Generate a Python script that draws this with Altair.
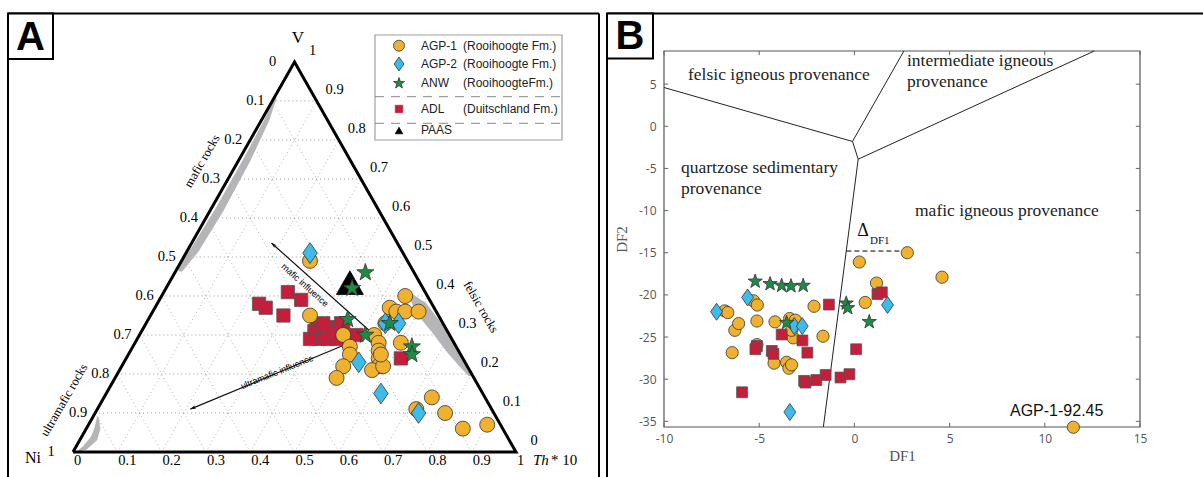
import altair as alt
import pandas as pd

# ---------------- Panel A : V - Ni - Th*10 ternary (fractions of Th*10 and V) ----------------
a_agp1_th = [0.29, 0.36, 0.55, 0.53, 0.55, 0.57, 0.60, 0.54, 0.60, 0.46, 0.49, 0.50,
             0.50, 0.50, 0.53, 0.55, 0.56, 0.57, 0.58, 0.57, 0.59, 0.57, 0.74, 0.79,
             0.85, 0.90, 0.72]
a_agp1_v = [0.49, 0.35, 0.40, 0.37, 0.36, 0.36, 0.36, 0.33, 0.28, 0.30, 0.27, 0.25,
            0.22, 0.19, 0.30, 0.28, 0.26, 0.24, 0.22, 0.21, 0.22, 0.25, 0.14, 0.10,
            0.06, 0.07, 0.11]
a_agp2_th = [0.28, 0.54, 0.57, 0.53, 0.62, 0.73]
a_agp2_v = [0.51, 0.33, 0.33, 0.23, 0.15, 0.10]
a_anw_th = [0.43, 0.42, 0.45, 0.51, 0.55, 0.63, 0.64]
a_anw_v = [0.46, 0.42, 0.34, 0.30, 0.33, 0.27, 0.25]
a_adl_th = [0.23, 0.25, 0.28, 0.32, 0.30, 0.39, 0.42, 0.39, 0.41, 0.43, 0.45, 0.43,
            0.45, 0.49, 0.62, 0.40, 0.44, 0.39]
a_adl_v = [0.38, 0.37, 0.41, 0.39, 0.35, 0.32, 0.32, 0.31, 0.29, 0.29, 0.29, 0.31,
           0.32, 0.30, 0.24, 0.33, 0.33, 0.29]
a_paas_th = [0.41]
a_paas_v = [0.43]

# ---------------- Panel B : DF1 vs DF2 ----------------
b_agp1_df1 = [-6.81, -6.65, -6.28, -6.08, -6.42, -5.30, -5.10, -5.12, -5.12, -4.17, -4.22,
              -3.56, -3.44, -3.30, -3.40, -3.10, -3.21, -3.30, -2.12, -1.65, 0.26, 1.16,
              0.57, 2.78, 4.60, 11.50]
b_agp1_df2 = [-21.9, -22.1, -24.2, -23.4, -26.85, -20.7, -21.2, -23.1, -25.9, -23.2, -28.1,
              -28.0, -28.7, -28.3, -22.8, -23.0, -25.1, -24.2, -21.35, -24.9, -16.1, -18.6,
              -20.9, -15.0, -17.9, -35.7]
b_agp2_df1 = [-7.24, -5.61, -3.39, -3.16, -2.74, 1.74]
b_agp2_df2 = [-22.0, -20.3, -33.9, -23.7, -23.7, -21.2]
b_anw_df1 = [-5.21, -4.43, -3.82, -3.33, -2.69, -0.43, -0.35, -3.56, 0.78]
b_anw_df2 = [-18.4, -18.7, -18.9, -18.95, -18.9, -21.0, -21.55, -23.3, -23.2]
b_adl_df1 = [-5.90, -5.12, -5.20, -4.34, -4.25, -3.82, -2.73, -2.47, -2.64, -2.57, -2.00,
             -1.51, -0.73, -0.26, 0.09, -1.34, 1.21, 1.44]
b_adl_df2 = [-31.55, -26.06, -26.45, -26.65, -27.0, -24.7, -25.4, -26.85, -30.2, -30.4,
             -30.1, -29.5, -29.8, -29.4, -26.45, -21.15, -19.9, -19.7]

# field boundaries (DF1, DF2)
b_bound_x1 = [-10.0, -0.1, -0.1, 0.2, 0.2]
b_bound_y1 = [4.6, -1.8, -1.8, -3.9, -3.9]
b_bound_x2 = [-0.1, 2.6, 0.2, 12.6, -1.63]
b_bound_y2 = [-1.8, 8.93, -3.9, 8.93, -35.67]

# ticks
tern_ticks = [0, 0.1, 0.2, 0.3, 0.4, 0.5, 0.6, 0.7, 0.8, 0.9, 1]
tern_labels = ["0", "0.1", "0.2", "0.3", "0.4", "0.5", "0.6", "0.7", "0.8", "0.9", "1"]
b_xticks = [-10, -5, 0, 5, 10, 15]
b_yticks = [-35, -30, -25, -20, -15, -10, -5, 0, 5]

ORANGE = "#F0B12F"
BLUE = "#3DBBEA"
GREEN = "#1E8A46"
RED = "#C41E3A"
EDGE = "#333333"
BAND = "#B5B5B8"

STAR = ("M0,-1L0.235,-0.324L0.951,-0.309L0.380,0.124L0.588,0.809L0,0.4L-0.588,0.809"
        "L-0.380,0.124L-0.951,-0.309L-0.235,-0.324Z")
DIAMOND = "M0,-1L0.7,0L0,1L-0.7,0Z"
TRI = "M0,-1L1,0.75L-1,0.75Z"
ARROWHEAD = "M0,0L0.6,1.8L0,1.4L-0.6,1.8Z"

XA = alt.Scale(domain=[0, 1], range=[73, 516], nice=False, zero=False)
YA = alt.Scale(domain=[0, 1], range=[452, 62], nice=False, zero=False)
XB = alt.Scale(domain=[-10, 15], range=[664, 1140], nice=False, zero=False)
YB = alt.Scale(domain=[-35.67, 8.93], range=[427, 51], nice=False, zero=False)


def ax(f):
    return alt.X(f"{f}:Q", scale=XA, axis=None)


def ay(f):
    return alt.Y(f"{f}:Q", scale=YA, axis=None)


AX_B = alt.Axis(orient="bottom", offset=-50, values=b_xticks, ticks=False, tickSize=0,
                domain=False, grid=False, labelExpr="'' + datum.value", labelFlush=False,
                labelFont="Open Sans", labelFontSize=12, labelColor="#555", labelPadding=6,
                title="DF1", titleFont="Liberation Serif", titleFontSize=15,
                titleFontWeight="normal", titleColor="#555", titlePadding=4)
AY_B = alt.Axis(orient="left", offset=-664, values=b_yticks, ticks=False, tickSize=0,
                domain=False, grid=False, labelExpr="'' + datum.value", labelFlush=False,
                labelFont="Open Sans", labelFontSize=12, labelColor="#555", labelPadding=8,
                title="DF2", titleFont="Liberation Serif", titleFontSize=15,
                titleFontWeight="normal", titleColor="#555", titlePadding=9)


def bx(f):
    return alt.X(f"{f}:Q", scale=XB, axis=AX_B)


def by(f):
    return alt.Y(f"{f}:Q", scale=YB, axis=AY_B)


def tern(th, v):
    df = pd.DataFrame({"th": th, "v": v})
    df["xf"] = df["th"] + df["v"] / 2
    return df


ONE = pd.DataFrame({"k": [0]})


def label(text, x, y, size=12, font="Liberation Serif", angle=0, align="center",
          baseline="middle", color="black", weight="normal", style="normal"):
    kw = dict(text=text, fontSize=size, font=font, align=align, baseline=baseline,
              color=color, fontWeight=weight, fontStyle=style)
    if angle:
        kw["angle"] = angle % 360
    return alt.Chart(ONE).mark_text(**kw).encode(x=alt.value(x), y=alt.value(y))


def vrule(x, y1, y2, color="black", w=2, dash=None):
    kw = dict(color=color, strokeWidth=w)
    if dash:
        kw["strokeDash"] = dash
    return alt.Chart(ONE).mark_rule(**kw).encode(x=alt.value(x), y=alt.value(y1), y2=alt.value(y2))


def hrule(y, x1, x2, color="black", w=2, dash=None):
    kw = dict(color=color, strokeWidth=w)
    if dash:
        kw["strokeDash"] = dash
    return alt.Chart(ONE).mark_rule(**kw).encode(y=alt.value(y), x=alt.value(x1), x2=alt.value(x2))


def sym(x, y, shape, size, fill, stroke=EDGE):
    return alt.Chart(ONE).mark_point(shape=shape, size=size, filled=True, fill=fill, stroke=stroke,
                                     strokeWidth=0.8, opacity=1).encode(x=alt.value(x), y=alt.value(y))


# ---------------- build panel A ----------------
grid_rows = []
for i in range(1, 10):
    c = i / 10
    grid_rows.append(dict(x1=c / 2, y1=c, x2=1 - c / 2, y2=c, kind="h"))
    grid_rows.append(dict(x1=c, y1=0, x2=c + (1 - c) / 2, y2=1 - c, kind="d"))
    grid_rows.append(dict(x1=1 - c, y1=0, x2=(1 - c) / 2, y2=1 - c, kind="d"))
grid = pd.DataFrame(grid_rows)

grid_d = alt.Chart(grid[grid.kind == "d"]).mark_rule(
    color="#a8a8a8", strokeWidth=0.9, strokeDash=[1, 3]).encode(
    x=ax("x1"), y=ay("y1"), x2="x2:Q", y2="y2:Q")
grid_h = alt.Chart(grid[grid.kind == "h"]).mark_rule(
    color="#8a8a8a", strokeWidth=0.9, strokeDash=[1, 3]).encode(
    x=ax("x1"), y=ay("y1"), x2="x2:Q", y2="y2:Q")


def band(th, v, w):
    df = tern(th, v)
    df["w"] = w
    df["o"] = range(len(df))
    return alt.Chart(df).mark_trail(color=BAND).encode(
        x=ax("xf"), y=ay("v"), size=alt.Size("w:Q", scale=None, legend=None), order="o:Q")


band_mafic = band([0.004, 0.012, 0.018, 0.02, 0.016, 0.008],
                  [0.905, 0.85, 0.75, 0.62, 0.52, 0.47], [2, 5, 7, 8, 8, 6])
band_felsic = band([0.57, 0.60, 0.66, 0.72, 0.77, 0.795],
                   [0.395, 0.37, 0.32, 0.265, 0.222, 0.200], [6, 14, 13, 10, 7, 4])
band_ultra = band([0.012, 0.025, 0.03, 0.022, 0.012],
                  [0.088, 0.06, 0.035, 0.012, 0.003], [2, 6, 7, 5, 2])

tri = pd.DataFrame({"xf": [0, 1, 0.5, 0], "v": [0, 0, 1, 0], "o": [0, 1, 2, 3]})
triangle = alt.Chart(tri).mark_line(color="black", strokeWidth=3, strokeJoin="miter").encode(
    x=ax("xf"), y=ay("v"), order="o:Q")

tick_df = pd.DataFrame({"t": tern_ticks, "lab": tern_labels})
tick_df["bx"] = tick_df["t"]
tick_df["by"] = 0.0
tick_df["rx"] = 1 - tick_df["t"] / 2
tick_df["ry"] = tick_df["t"]
tick_df["lx"] = (1 - tick_df["t"]) / 2
tick_df["ly"] = 1 - tick_df["t"]
TF = dict(font="Liberation Serif", fontSize=14.5, color="black", baseline="middle")
bottom_labels = alt.Chart(tick_df).mark_text(align="left", dx=1, dy=9, **TF).encode(
    x=ax("bx"), y=ay("by"), text="lab:N")
right_labels = alt.Chart(tick_df).mark_text(align="center", dx=18, dy=-11, **TF).encode(
    x=ax("rx"), y=ay("ry"), text="lab:N")
left_mid = alt.Chart(tick_df[(tick_df.t > 0) & (tick_df.t < 1)]).mark_text(
    align="center", dx=-17, **TF).encode(x=ax("lx"), y=ay("ly"), text="lab:N")
left_ends = alt.Chart(tick_df[(tick_df.t == 0) | (tick_df.t == 1)]).mark_text(
    align="center", dx=-22, **TF).encode(x=ax("lx"), y=ay("ly"), text="lab:N")


def arrow(th0, v0, th1, v1, ang):
    df = tern([th0, th1], [v0, v1])
    seg = pd.DataFrame({"x0": [df.xf[0]], "y0": [df.v[0]], "x1": [df.xf[1]], "y1": [df.v[1]]})
    line = alt.Chart(seg).mark_rule(color="#111", strokeWidth=1.2).encode(
        x=ax("x0"), y=ay("y0"), x2="x1:Q", y2="y1:Q")
    head = alt.Chart(seg).mark_point(shape=ARROWHEAD, size=36, filled=True, color="#111",
                                     opacity=1, angle=ang).encode(x=ax("x1"), y=ay("y1"))
    return [line, head]


arrows = arrow(0.53, 0.30, 0.18, 0.536, 311.5) + arrow(0.525, 0.305, 0.21, 0.11, 247.4)


def pts_a(th, v, shape, size, color, stroke=EDGE):
    return alt.Chart(tern(th, v)).mark_point(
        shape=shape, size=size, filled=True, fill=color, stroke=stroke, strokeWidth=0.8,
        opacity=1).encode(x=ax("xf"), y=ay("v"))


a_points = [
    pts_a(a_adl_th, a_adl_v, "square", 177, RED, "#555"),
    pts_a(a_agp1_th, a_agp1_v, "circle", 225, ORANGE),
    pts_a(a_agp2_th, a_agp2_v, DIAMOND, 430, BLUE),
    pts_a(a_paas_th, a_paas_v, TRI, 729, "black", "black"),
    pts_a(a_anw_th, a_anw_v, STAR, 324, GREEN),
]

a_text = [
    label("V", 298, 38, size=17),
    label("Ni", 33, 458, size=16),
    label("Th", 533, 460, size=15, style="italic", align="left"),
    label("* 10", 551, 460, size=15, align="left"),
    label("mafic rocks", 202, 161, size=12.5, angle=-60),
    label("ultramafic rocks", 64, 400, size=12.5, angle=-60),
    label("felsic rocks", 481, 307, size=12.5, angle=60),
    label("mafic influence", 305, 285, size=9, font="Liberation Sans", angle=42),
    label("ultramafic influence", 277, 372, size=9, font="Liberation Sans", angle=-22),
]

legend_box = alt.Chart(ONE).mark_rect(fill="white", stroke="#a0a0a0", strokeWidth=1.2).encode(
    x=alt.value(375), x2=alt.value(562), y=alt.value(35), y2=alt.value(140))
LF = dict(size=12, font="Liberation Sans", align="left", color="#222")
legend = [
    legend_box,
    hrule(96.7, 375, 562, color="#888", w=1, dash=[9, 7]),
    hrule(123.3, 375, 562, color="#888", w=1, dash=[9, 7]),
    sym(399, 45.7, "circle", 121, ORANGE),
    sym(399, 64, DIAMOND, 196, BLUE),
    sym(399, 83.3, STAR, 135, GREEN),
    sym(399, 109, "square", 54, RED, RED),
    sym(399, 131, TRI, 55, "black", "black"),
    label("AGP-1", 421, 45.7, **LF), label("(Rooihoogte Fm.)", 463, 45.7, **LF),
    label("AGP-2", 421, 64, **LF), label("(Rooihoogte Fm.)", 463, 64, **LF),
    label("ANW", 421, 83.3, **LF), label("(RooihoogteFm.)", 463, 83.3, **LF),
    label("ADL", 421, 109, **LF), label("(Duitschland Fm.)", 463, 109, **LF),
    label("PAAS", 421, 130, **LF),
]

panel_a = alt.layer(grid_d, grid_h, band_mafic, band_felsic, band_ultra, triangle,
                    bottom_labels, right_labels, left_mid, left_ends,
                    *arrows, *a_points, *a_text, *legend)

# ---------------- build panel B ----------------
box = pd.DataFrame({"x0": [-10], "x1": [15], "y0": [-35.67], "y1": [8.93]})
b_box = alt.Chart(box).mark_rect(fillOpacity=0, stroke="#555", strokeWidth=1.2).encode(
    x=bx("x0"), x2="x1:Q", y=by("y0"), y2="y1:Q")

xt = pd.DataFrame({"x": b_xticks})
xt["yb0"], xt["yb1"], xt["yt0"], xt["yt1"] = -35.67, -35.17, 8.93, 8.43
yt = pd.DataFrame({"y": b_yticks})
yt["xl0"], yt["xl1"], yt["xr0"], yt["xr1"] = -10.0, -9.78, 15.0, 14.78
TK = dict(color="#666", strokeWidth=1)
b_ticks = [
    alt.Chart(xt).mark_rule(**TK).encode(x=bx("x"), y=by("yb0"), y2="yb1:Q"),
    alt.Chart(xt).mark_rule(**TK).encode(x=bx("x"), y=by("yt0"), y2="yt1:Q"),
    alt.Chart(yt).mark_rule(**TK).encode(y=by("y"), x=bx("xl0"), x2="xl1:Q"),
    alt.Chart(yt).mark_rule(**TK).encode(y=by("y"), x=bx("xr0"), x2="xr1:Q"),
]

bounds = pd.DataFrame({"x1": b_bound_x1, "y1": b_bound_y1, "x2": b_bound_x2, "y2": b_bound_y2})
b_bounds = alt.Chart(bounds).mark_rule(color="#222", strokeWidth=1).encode(
    x=bx("x1"), y=by("y1"), x2="x2:Q", y2="y2:Q")
delta = pd.DataFrame({"x1": [-0.42], "x2": [2.78], "y": [-14.8]})
b_delta = alt.Chart(delta).mark_rule(color="black", strokeWidth=1, strokeDash=[5, 3]).encode(
    x=bx("x1"), x2="x2:Q", y=by("y"))


def pts_b(x, y, shape, size, color, stroke=EDGE):
    return alt.Chart(pd.DataFrame({"df1": x, "df2": y})).mark_point(
        shape=shape, size=size, filled=True, fill=color, stroke=stroke, strokeWidth=0.8,
        opacity=1).encode(x=bx("df1"), y=by("df2"))


b_points = [
    pts_b(b_agp1_df1, b_agp1_df2, "circle", 150, ORANGE),
    pts_b(b_adl_df1, b_adl_df2, "square", 118, RED, "#555"),
    pts_b(b_agp2_df1, b_agp2_df2, DIAMOND, 289, BLUE),
    pts_b(b_anw_df1, b_anw_df2, STAR, 225, GREEN),
]

RF = dict(size=17.5, font="Liberation Serif", align="left", color="#222")
b_text = [
    label("felsic igneous provenance", 688, 75, **RF),
    label("intermediate igneous", 907, 61, **RF),
    label("provenance", 907, 82, **RF),
    label("quartzose sedimentary", 681, 168, **RF),
    label("provenance", 681, 189, **RF),
    label("mafic igneous provenance", 915, 211, **RF),
    label("AGP-1-92.45", 1010, 411, size=16, font="Liberation Sans", align="left", color="#111"),
    label("\u0394", 863, 231, size=18, font="Liberation Serif", color="#111"),
    label("DF1", 870, 241, size=11, font="Liberation Serif", align="left", color="#111"),
]

panel_b = alt.layer(b_box, *b_ticks, b_bounds, b_delta, *b_points, *b_text)

# ---------------- frames ----------------
frames = [
    vrule(8, 13.5, 477), hrule(13.5, 8, 599), vrule(599, 13.5, 477),
    vrule(607, 13.5, 477), hrule(13.5, 607, 1203),
    alt.Chart(ONE).mark_rect(fill="white", stroke="black", strokeWidth=2).encode(
        x=alt.value(8), x2=alt.value(53), y=alt.value(13.5), y2=alt.value(59)),
    alt.Chart(ONE).mark_rect(fill="white", stroke="black", strokeWidth=2).encode(
        x=alt.value(607), x2=alt.value(653), y=alt.value(13.5), y2=alt.value(58.5)),
    label("A", 30.5, 38, size=40, font="Liberation Sans", weight="bold"),
    label("B", 630, 37, size=40, font="Liberation Sans", weight="bold"),
]

chart = alt.layer(panel_a, panel_b, *frames).resolve_scale(
    x="independent", y="independent").resolve_axis(x="independent", y="independent").properties(
    width=1203, height=477, padding=0, autosize=alt.AutoSizeParams(type="none")
).configure_view(stroke=None)

chart.save("out.html", embed_options={"renderer": "svg", "actions": False})
